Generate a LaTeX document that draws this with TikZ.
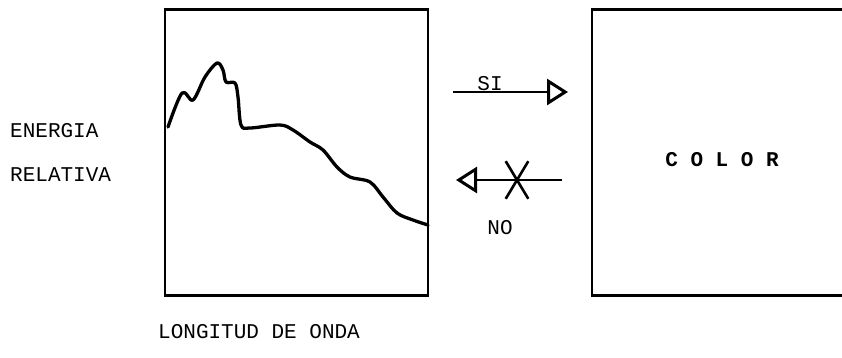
\documentclass[tikz,border=0pt]{standalone}
\usepackage{fontspec}
\setmonofont{Liberation Mono}
\usetikzlibrary{arrows.meta,shapes.misc,positioning}

\begin{document}
\begin{tikzpicture}[x=1pt, y=-1pt,
    panel/.style={draw, line width=2.3pt, minimum width=263pt, minimum height=286pt, inner sep=0pt},
    label/.style={font=\fontsize{21}{24}\selectfont\ttfamily, inner sep=0pt},
    spectrum/.style={line width=3.3pt, line join=round, line cap=round},
    link/.style={line width=2pt, -{Triangle[open, length=21pt, width=26pt, line width=3pt]}},
    veto/.style={draw, cross out, line width=2.6pt, minimum width=20pt, minimum height=35pt, inner sep=0pt}
]
\useasboundingbox (0,0) rectangle (842,357);
\clip (0,0) rectangle (842,357);
% the two boxes
\node[panel] (spec) at (296.5,152.5) {};
\node[panel, minimum width=280pt] (color) at (732,152.5) {};
\node[label, font=\fontsize{21}{24}\selectfont\ttfamily\bfseries] (ctext) at (722,160) {C O L O R};
% spectral curve
\draw[spectrum] plot[smooth, tension=0.55] coordinates {
    (168,127) (182,93) (193,100) (205,77) (217,63) (223,70) (226,82)
    (235,83) (238,97) (241,125) (250,128) (280,125) (293,130) (310,142)
    (323,150) (337,167) (350,177) (370,182) (383,197) (397,213) (413,220) (428,225)};
% axis labels
\node[label, anchor=west] (ylab1) at (10,131) {ENERGIA};
\node[label, anchor=west] (ylab2) at (10,175) {RELATIVA};
\node[label, anchor=west] (xlab) at (158,332) {LONGITUD DE ONDA};
% yes / no arrows
\coordinate (si0) at (453,92);
\coordinate (si1) at (568,92);
\coordinate (no0) at (562,180);
\coordinate (no1) at (456,180);
\draw[link] (si0) -- (si1);
\draw[link] (no0) -- (no1);
\node[label, anchor=base] (si) at (490,90) {SI};
\node[veto] (cross) at (517,180) {};
\node[label] (no) at (500,228) {NO};
\end{tikzpicture}
\end{document}
